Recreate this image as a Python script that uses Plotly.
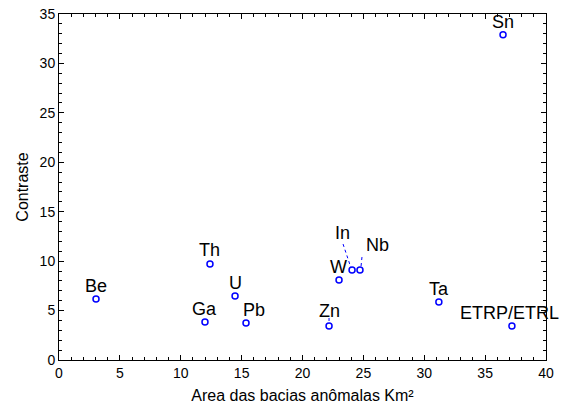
import plotly.graph_objects as go

elements = ["Be", "Th", "U", "Ga", "Pb", "Zn", "W", "In", "Nb", "Ta", "ETRP/ETRL", "Sn"]
area = [3.04, 12.4, 14.46, 11.99, 15.36, 22.18, 23.0, 24.07, 24.72, 31.2, 37.2, 36.47]
contraste = [6.17, 9.71, 6.47, 3.84, 3.74, 3.44, 8.09, 9.1, 9.1, 5.87, 3.44, 32.9]

# label offsets in pixels (x right, y up)
label_dx = [0, 0, 0, 0, 8, 0, -1, -10, 18, 0, -2, 0]
label_dy = [13, 14, 13, 13, 13, 15, 13, 37, 25, 13, 13, 13]
# dashed leader lines (pixel offsets from point: start, end)
leaders = {"Zn": (0, 8, 0, 2), "In": (-9, 26, -1, 2), "Nb": (2, 13, 1, 3)}

W, H = 564, 412
ml, mr, mt, mb = 59, 18, 14, 52
xr = [0, 40]
yr = [0, 35]
pw, ph = W - ml - mr, H - mt - mb
sx = (xr[1] - xr[0]) / pw
sy = (yr[1] - yr[0]) / ph

FONT = "Liberation Sans, Arial, sans-serif"

fig = go.Figure()
fig.add_trace(go.Scatter(
    x=area, y=contraste, mode="markers",
    marker=dict(symbol="circle-open", size=6, color="#0000ff", line=dict(width=1.5, color="#0000ff")),
    showlegend=False, cliponaxis=False,
))

for i, name in enumerate(elements):
    fig.add_annotation(
        x=area[i], y=contraste[i], text=name, showarrow=False,
        xshift=label_dx[i], yshift=label_dy[i],
        font=dict(family=FONT, size=18, color="black"),
    )
    if name in leaders:
        x0, y0, x1, y1 = leaders[name]
        fig.add_shape(
            type="line", xref="x", yref="y",
            x0=area[i] + x0 * sx, y0=contraste[i] + y0 * sy,
            x1=area[i] + x1 * sx, y1=contraste[i] + y1 * sy,
            line=dict(color="#0000ff", width=1, dash="dot"),
        )

axis_common = dict(
    showgrid=False, zeroline=False, showline=True, linecolor="black", linewidth=1,
    mirror="ticks", ticks="inside", ticklen=5, tickcolor="black", automargin=False,
    tickfont=dict(family=FONT, size=14, color="black"),
    minor=dict(ticks="inside", ticklen=3, dtick=1, tickcolor="black"),
)

fig.update_xaxes(range=xr, dtick=5, tick0=0,
                 title=dict(text="Area das bacias anômalas Km²",
                            font=dict(family=FONT, size=16, color="black"),
                            standoff=10),
                 **axis_common)
fig.update_yaxes(range=yr, dtick=5, tick0=0,
                 title=dict(text="Contraste",
                            font=dict(family=FONT, size=16, color="black"),
                            standoff=7),
                 **axis_common)

fig.update_layout(
    width=W, height=H,
    margin=dict(l=ml, r=mr, t=mt, b=mb),
    plot_bgcolor="white", paper_bgcolor="white",
)

fig.write_html("out.html", config={"displayModeBar": False},
               post_script="document.body.style.margin='0px';")
